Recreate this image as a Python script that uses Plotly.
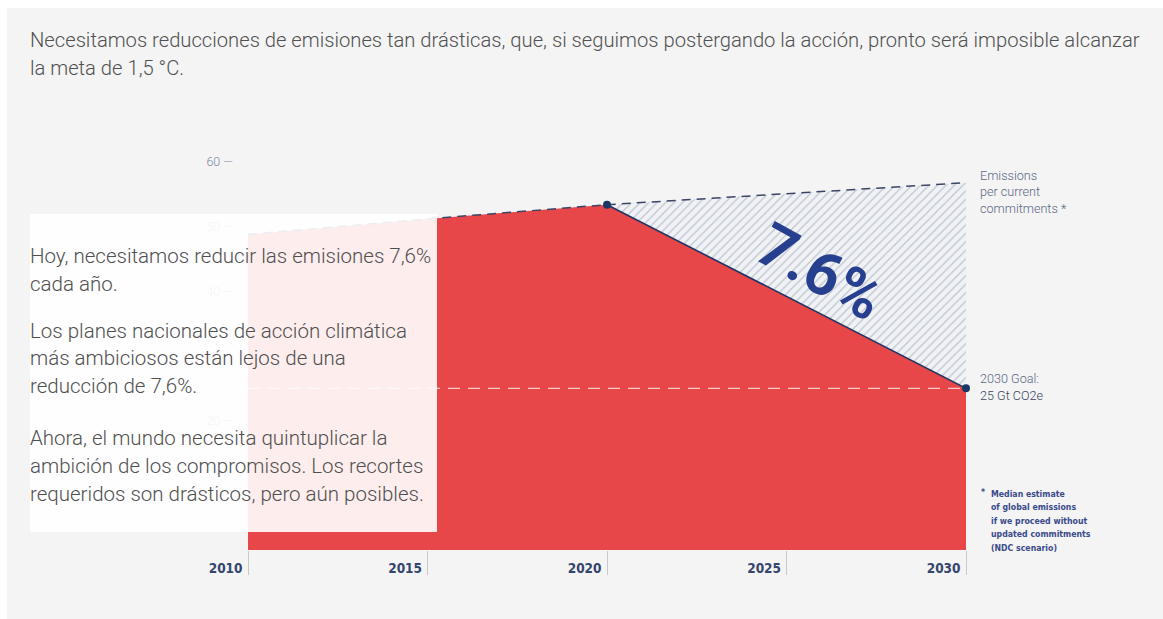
import plotly.graph_objects as go

# Emissions in Gt CO2e
hist_years = [2010, 2015, 2020]
hist_emissions = [48.8, 51.2, 53.4]
ndc_years = [2020, 2030]
ndc_emissions = [53.4, 56.8]
goal_years = [2020, 2030]
goal_emissions = [53.4, 25]
goal_level = 25
x_ticks = [2010, 2015, 2020, 2025, 2030]
y_ticks = [20, 40, 50, 60]

W, H = 1163, 619
ML, MR, MT, MB = 248, 197, 162, 69
PW, PH = W - ML - MR, H - MT - MB

RED = "#e84749"
NAVY = "#1f3563"
BG = "#f4f4f4"


def px(x):
    return (x - ML) / PW


def py(y):
    return (H - MB - y) / PH


fig = go.Figure()

# red area: history, then the required decline to the 2030 goal
fig.add_trace(go.Scatter(
    x=hist_years + goal_years[1:], y=hist_emissions + goal_emissions[1:],
    fill="tozeroy", fillcolor=RED, line=dict(width=0), mode="lines",
    hoverinfo="skip", showlegend=False))

# hatched gap between current commitments and the goal path
fig.add_trace(go.Scatter(
    x=ndc_years + goal_years[::-1] + ndc_years[:1],
    y=ndc_emissions + goal_emissions[::-1] + ndc_emissions[:1],
    fill="toself", mode="lines", line=dict(width=0),
    fillcolor="#eef0f4",
    fillpattern=dict(shape="/", fgcolor="#8a93a8", bgcolor="#f0f2f5",
                     size=6, solidity=0.2),
    hoverinfo="skip", showlegend=False))

# 2030 goal level
fig.add_trace(go.Scatter(
    x=[x_ticks[0], x_ticks[-1]], y=[goal_level, goal_level], mode="lines",
    line=dict(color="rgba(250,215,215,0.9)", width=1.3, dash="12px,8px"),
    hoverinfo="skip", showlegend=False))

# emissions per current commitments
fig.add_trace(go.Scatter(
    x=hist_years + ndc_years[1:], y=hist_emissions + ndc_emissions[1:],
    mode="lines", line=dict(color="#3b4566", width=1.5, dash="9px,6px"),
    hoverinfo="skip", showlegend=False, cliponaxis=False))

# required pathway
fig.add_trace(go.Scatter(
    x=goal_years, y=goal_emissions, mode="lines+markers",
    line=dict(color=NAVY, width=1.6),
    marker=dict(color="#1b3766", size=8),
    hoverinfo="skip", showlegend=False, cliponaxis=False))

shapes = [
    # white frame strips around the grey panel
    dict(type="rect", xref="paper", yref="paper", x0=px(0), x1=px(W), y0=py(8), y1=py(0),
         fillcolor="white", line=dict(width=0), layer="above"),
    dict(type="rect", xref="paper", yref="paper", x0=px(0), x1=px(7), y0=py(H), y1=py(0),
         fillcolor="white", line=dict(width=0), layer="above"),
    # text panel
    dict(type="rect", xref="paper", yref="paper", x0=px(30), x1=px(437), y0=py(532), y1=py(214),
         fillcolor="rgba(255,255,255,0.9)", line=dict(width=0), layer="above"),
]

annotations = []


def line_text(t, x, y, font, anchor="middle"):
    annotations.append(dict(text=t, xref="paper", yref="paper", x=px(x), y=py(y),
                            xanchor="left", yanchor=anchor, showarrow=False, font=font))


TITLE = dict(family="Roboto", size=20.2, color="#505050", weight=300)
title_lines = [
    ("Necesitamos reducciones de emisiones tan drásticas, que, si seguimos postergando la acción, pronto será imposible alcanzar", 40),
    ("la meta de 1,5 °C.", 68),
]
for t, y in title_lines:
    line_text(t, 28, y, TITLE)

TXT = dict(family="Roboto", size=20.5, color="#4f4f4f", weight=300)
panel_lines = [
    ("Hoy, necesitamos reducir las emisiones 7,6%", 256),
    ("cada año.", 284),
    ("Los planes nacionales de acción climática", 331),
    ("más ambiciosos están lejos de una", 358),
    ("reducción de 7,6%.", 386),
    ("Ahora, el mundo necesita quintuplicar la", 438),
    ("ambición de los compromisos. Los recortes", 466),
    ("requeridos son drásticos, pero aún posibles.", 494),
]
for t, y in panel_lines:
    line_text(t, 28, y, TXT)

# big rate label along the decline
annotations.append(dict(text="<b>7.6%</b>", x=2025.95, y=43.0, xref="x", yref="y",
                        showarrow=False, textangle=29,
                        font=dict(family="Roboto", size=61, color="#263f8e", weight=900)))

SMALL = dict(family="Roboto", size=12.6, color="#5b6684", weight=300)
for t, y in [("Emissions", 175), ("per current", 191.5), ("commitments *", 208)]:
    line_text(t, 978, y, SMALL)
line_text("2030 Goal:", 978, 378, SMALL)
line_text("25 Gt CO2e", 978, 395, dict(SMALL, color="#3a4560"))

NOTE = dict(family="DejaVu Sans Condensed", size=8.7, color="#3a4a8a", weight="bold")
line_text("*", 979, 492, NOTE)
note_lines = ["Median estimate", "of global emissions", "if we proceed without",
              "updated commitments", "(NDC scenario)"]
for i, t in enumerate(note_lines):
    line_text(t, 989, 493.5 + 13.6 * i, NOTE)

fig.update_layout(
    width=W, height=H,
    margin=dict(l=ML, r=MR, t=MT, b=MB),
    paper_bgcolor=BG, plot_bgcolor="rgba(0,0,0,0)",
    shapes=shapes, annotations=annotations,
    xaxis=dict(range=[x_ticks[0], x_ticks[-1]], tickvals=x_ticks,
               ticktext=[str(v) for v in x_ticks],
               showgrid=False, zeroline=False, showline=False,
               ticks="outside", ticklen=24, tickwidth=1, tickcolor="#c9c9c9",
               ticklabelposition="outside left", ticklabelstandoff=6, ticklabelshift=-5,
               tickfont=dict(family="DejaVu Sans Condensed", size=13.5, color="#34466e", weight="bold"),
               fixedrange=True),
    yaxis=dict(range=[0, 60], tickvals=y_ticks, ticktext=[f"{v} —" for v in y_ticks],
               showgrid=False, zeroline=False, showline=False, ticks="",
               ticklabelstandoff=14,
               tickfont=dict(family="Roboto", size=12.5, color="#7d86a0", weight=300),
               fixedrange=True),
)

fig.write_html("out.html")
